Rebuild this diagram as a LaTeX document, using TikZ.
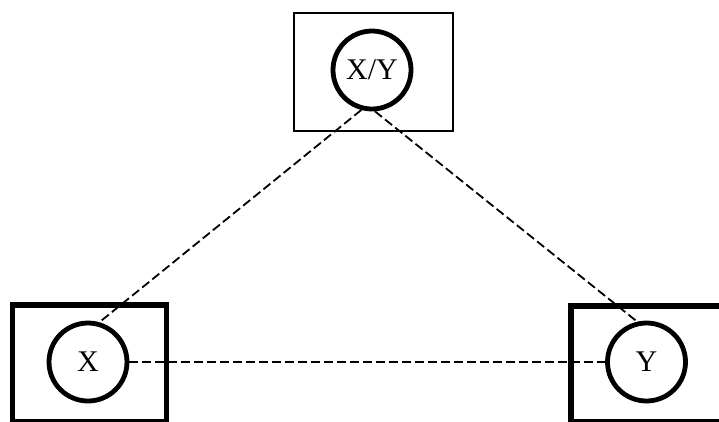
\documentclass[tikz,border=0pt]{standalone}
\usepackage{fontspec}
\setmainfont{Liberation Serif}
\begin{document}
\begin{tikzpicture}[x=1pt,y=-1pt,
  thinbox/.style={draw, line width=1.8pt},
  thickbox/.style={draw, line width=5.5pt},
  ring/.style={circle, draw, line width=4.8pt, minimum size=78pt, inner sep=0pt, font=\fontsize{30}{30}\selectfont},
  link/.style={draw, line width=1.8pt, dash pattern=on 9pt off 4pt}]
\useasboundingbox (0,0) rectangle (719,421);
\begin{scope}
\clip (0,0) rectangle (719,421);
\node[thinbox, minimum width=159pt, minimum height=118pt, inner sep=0pt, anchor=north west] (TB) at (293,12) {};
\node[thickbox, minimum width=154pt, minimum height=116.5pt, inner sep=0pt, anchor=north west] (LB) at (9.5,302) {};
\node[thickbox, minimum width=160pt, minimum height=116pt, inner sep=0pt, anchor=north west] (RB) at (568,303) {};
\end{scope}
\node[ring] (T) at (372,70) {X/Y};
\node[ring] (X) at (88,362) {X};
\node[ring] (Y) at (646.5,362) {Y};
\draw[link] (T.255) -- (X.74);
\draw[link] (T.274) -- (Y.103);
\draw[link] (X.east) -- (Y.west);
\end{tikzpicture}
\end{document}
